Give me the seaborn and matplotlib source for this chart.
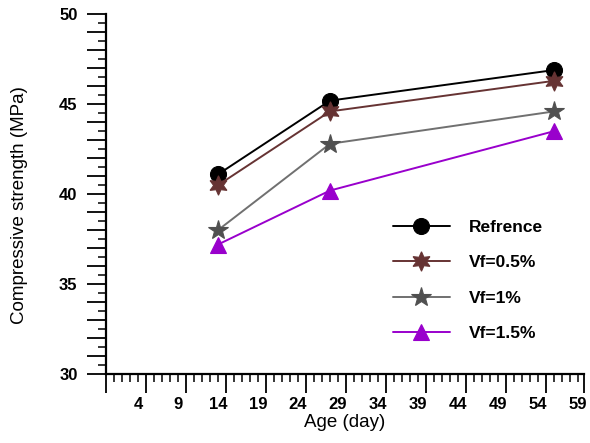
import matplotlib
matplotlib.use("Agg")
import matplotlib.pyplot as plt
from matplotlib.ticker import MultipleLocator, FuncFormatter, FixedLocator
import seaborn as sns
import pandas as pd

# ---- data ----
age = [14, 28, 56]
refrence = [41.1, 45.2, 46.9]
vf05 = [40.5, 44.6, 46.3]
vf1 = [38.0, 42.8, 44.6]
vf15 = [37.2, 40.2, 43.5]
series_names = ["Refrence", "Vf=0.5%", "Vf=1%", "Vf=1.5%"]
x_tick_labels = [4, 9, 14, 19, 24, 29, 34, 39, 44, 49, 54, 59]
y_tick_labels = [30, 35, 40, 45, 50]

sns.set_style("ticks")
plt.rcParams["font.family"] = ["Liberation Sans", "DejaVu Sans"]
for k in ["text.color", "axes.labelcolor", "xtick.color", "ytick.color", "axes.edgecolor"]:
    plt.rcParams[k] = "black"

fig = plt.figure(figsize=(5.90, 4.43), dpi=100)
ax = fig.add_axes([106/590, 1-374/443, (584-106)/590, (374-14.3)/443])

styles = {
    "Refrence": dict(color="#000000", mcolor="#000000", marker="o", ms=11.5),
    "Vf=0.5%": dict(color="#663333", mcolor="#663333", marker=(6, 1, 0), ms=14),
    "Vf=1%": dict(color="#707070", mcolor="#505050", marker="*", ms=15),
    "Vf=1.5%": dict(color="#9900cc", mcolor="#9900cc", marker="^", ms=11),
}
values = [refrence, vf05, vf1, vf15]
for name, vals in zip(series_names, values):
    df = pd.DataFrame({"Age": age, "Strength": vals})
    st = styles[name]
    sns.lineplot(data=df, x="Age", y="Strength", ax=ax, color=st["color"],
                 marker=st["marker"], markersize=st["ms"], markerfacecolor=st["mcolor"],
                 markeredgecolor=st["mcolor"], markeredgewidth=0.8, linewidth=1.4,
                 label=name)

ax.set_xlim(0, 59.75)
ax.set_ylim(30, 50)
sns.despine(ax=ax)
for s in ["left", "bottom"]:
    ax.spines[s].set_linewidth(1.6)

ax.xaxis.set_major_locator(FixedLocator([0, 5, 10, 15, 20, 25, 30, 35, 40, 45, 50, 55, 59.75]))
ax.xaxis.set_minor_locator(MultipleLocator(1))
ax.set_xticklabels([])
ax.yaxis.set_major_locator(MultipleLocator(1))
ax.yaxis.set_minor_locator(MultipleLocator(0.5))
ax.yaxis.set_major_formatter(FuncFormatter(lambda v, p: f"{int(round(v))}" if int(round(v)) in y_tick_labels and abs(v - round(v)) < 1e-6 else ""))
ax.tick_params(which="major", direction="out", length=13.5, width=1.3, labelsize=12, pad=7)
ax.tick_params(which="minor", direction="out", length=6, width=1.1)
for lab in ax.get_yticklabels():
    lab.set_fontweight("bold")

sec = ax.secondary_xaxis("bottom")
sec.set_xticks(x_tick_labels)
sec.set_xticklabels([str(v) for v in x_tick_labels], fontweight="bold", fontsize=12)
sec.tick_params(length=0, pad=16.5)
sec.spines["bottom"].set_visible(False)
sec.set_xlabel("")

ax.set_xlabel("Age (day)", fontsize=13.5)
ax.set_ylabel("Compressive strength (MPa)", fontsize=13.5)
ax.xaxis.set_label_coords(0.5, (374 - 414) / 359.7)
ax.yaxis.set_label_coords((28 - 106) / 478, 0.47)

leg = ax.legend(loc="upper left", bbox_to_anchor=(377/590, 1-204/443), bbox_transform=fig.transFigure,
                frameon=False, prop={"weight": "bold", "size": 12.5}, handlelength=3.3,
                handletextpad=1.1, labelspacing=1.17)

fig.savefig("out.png", dpi=100)
